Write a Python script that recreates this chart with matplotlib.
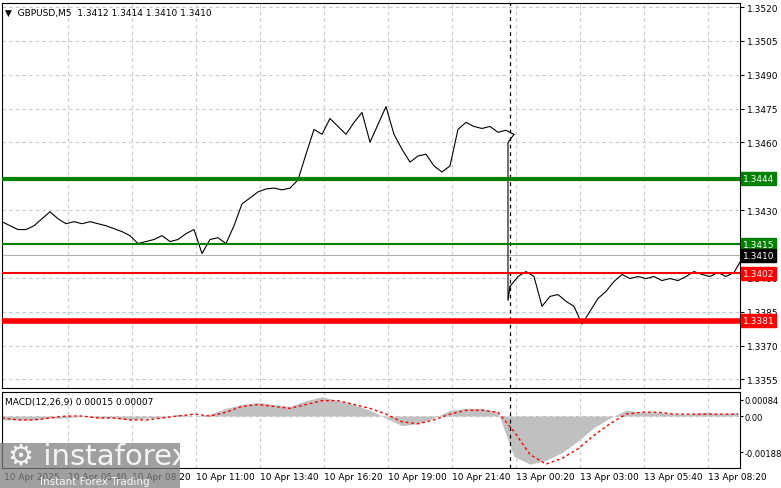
import matplotlib.pyplot as plt
import numpy as np

# price closes sampled every 4 bars (5-minute bars)
price = [1.34249, 1.34231, 1.34214, 1.34214, 1.34231, 1.34262, 1.34293, 1.34262, 1.34240, 1.34249,
         1.34240, 1.34249, 1.34240, 1.34231, 1.34218, 1.34205, 1.34187, 1.34152, 1.34161, 1.34170,
         1.34187, 1.34161, 1.34170, 1.34196, 1.34214, 1.34108, 1.34170, 1.34178, 1.34152, 1.34231,
         1.34328, 1.34354, 1.34381, 1.34394, 1.34398, 1.34390, 1.34398, 1.34434, 1.34548, 1.34658,
         1.34636, 1.34706, 1.34671, 1.34636, 1.34689, 1.34733, 1.34601, 1.34680, 1.34759, 1.34636,
         1.34570, 1.34513, 1.34540, 1.34548, 1.34496, 1.34469, 1.34496, 1.34658, 1.34689, 1.34671,
         1.34662, 1.34671, 1.34645, 1.34654, 1.34636]
price_tail = [1.33962, 1.34006, 1.34028, 1.34006, 1.33874, 1.33918, 1.33926, 1.33896, 1.33874, 1.33795,
              1.33852, 1.33909, 1.33940, 1.33984, 1.34015, 1.33997, 1.34006, 1.33997, 1.34006, 1.33988,
              1.33997, 1.33988, 1.34006, 1.34028, 1.34015, 1.34006, 1.34024, 1.34006, 1.34024, 1.34085, 1.34100]
last_price = 1.3410

levels = [1.3444, 1.3415, 1.3402, 1.3381]
level_colors = ['#008000', '#008000', '#ff0000', '#ff0000']
level_widths = [3, 1.5, 1.5, 4]

price_ticks = [1.3520, 1.3505, 1.3490, 1.3475, 1.3460, 1.3430, 1.3400, 1.3385, 1.3370, 1.3355]

# MACD histogram and signal, sampled every 8 bars
macd_hist = [-0.0002, -0.0002, -0.0002, -0.0001, -0.0001, 0.0, -0.0001, -0.0001, -0.0002, -0.0001,
             -0.0001, 0.0001, 0.0, 0.0001, 0.0004, 0.0006, 0.0007, 0.0006, 0.0005, 0.0008,
             0.0010, 0.0008, 0.0006, 0.0003, -0.0001, -0.0005, -0.0004, -0.0001, 0.0003, 0.0004,
             0.0004, 0.0002, -0.0021, -0.0025, -0.0023, -0.0019, -0.0013, -0.0006, -0.0001, 0.0003,
             0.0002, 0.0002, 0.0001, 0.0001, 0.0002, 0.0001, 0.0002]
macd_sig = [-0.0001, -0.0002, -0.0002, -0.0001, 0.0, 0.0, -0.0001, -0.0001, -0.0002, -0.0002,
            -0.0001, 0.0, 0.0001, 0.0, 0.0002, 0.0005, 0.0006, 0.0005, 0.0004, 0.0006,
            0.0008, 0.0008, 0.0006, 0.0004, 0.0001, -0.0003, -0.0004, -0.0002, 0.0001, 0.0003,
            0.0003, 0.0002, -0.0008, -0.0020, -0.0025, -0.0022, -0.0017, -0.0010, -0.0004, 0.0001,
            0.0002, 0.0002, 0.0001, 0.0001, 0.0001, 0.0001, 0.0001]

time_labels = ['10 Apr 2025', '10 Apr 05:40', '10 Apr 08:20', '10 Apr 11:00', '10 Apr 13:40',
               '10 Apr 16:20', '10 Apr 19:00', '10 Apr 21:40', '13 Apr 00:20', '13 Apr 03:00',
               '13 Apr 05:40', '13 Apr 08:20']

W, H = 781, 489
fs = 6.5
fig = plt.figure(figsize=(W / 100, H / 100), dpi=100)
left, right = 2 / W, 740 / W
ax = fig.add_axes([left, 1 - 389 / H, right - left, 385 / H])
ax2 = fig.add_axes([left, 1 - 469 / H, right - left, 76 / H])

nbars = 369
x_main = np.arange(len(price)) * 4
x_tail = 254 + np.arange(len(price_tail)) * 4
tick_bars = [1] + [33 + 32 * i for i in range(11)]
brk = 254

for a in (ax, ax2):
    a.set_xlim(0, nbars)
    for tb in tick_bars[1:]:
        a.axvline(tb, color='#c8c8c8', ls=(0, (3, 3)), lw=0.8, zorder=0)
    a.axvline(brk, color='black', ls=(0, (3, 3)), lw=0.9, zorder=3)
    a.yaxis.tick_right()
    a.tick_params(axis='y', length=3, labelsize=fs, pad=2)
    a.tick_params(axis='x', length=0)
    for s in a.spines.values():
        s.set_color('black')
        s.set_linewidth(0.8)

ax.set_ylim(1.33512, 1.35218)
for p in price_ticks:
    ax.axhline(p, color='#c8c8c8', ls=(0, (3, 3)), lw=0.8, zorder=0)
ax.axhline(last_price, color='#b0b0b0', lw=0.8, zorder=1)
ax.plot(x_main, price, color='black', lw=0.8, zorder=4)
ax.plot([x_main[-1], x_tail[0] - 1, x_tail[0] - 1, x_tail[0]],
        [price[-1], 1.3460, 1.3390, price_tail[0]], color='black', lw=0.8, zorder=4)
ax.plot(x_tail, price_tail, color='black', lw=0.8, zorder=4)
ax.set_yticks(price_ticks)
ax.set_yticklabels([f'{p:.4f}' for p in price_ticks])
ax.set_xticks([])

for lv, c, lw in zip(levels, level_colors, level_widths):
    ax.axhline(lv, color=c, lw=lw, zorder=5)
    ax.annotate(f'{lv:.4f}', xy=(1.0, lv), xycoords=('axes fraction', 'data'),
                xytext=(2, 0), textcoords='offset points', va='center', ha='left',
                fontsize=fs, color='white', annotation_clip=False,
                bbox=dict(boxstyle='square,pad=0.2', fc=c, ec=c))
ax.annotate(f'{last_price:.4f}', xy=(1.0, last_price), xycoords=('axes fraction', 'data'),
            xytext=(2, 0), textcoords='offset points', va='center', ha='left',
            fontsize=fs, color='white', annotation_clip=False,
            bbox=dict(boxstyle='square,pad=0.2', fc='black', ec='black'))

ax.text(0.004, 0.988, '\u25bc  GBPUSD,M5  1.3412 1.3414 1.3410 1.3410', transform=ax.transAxes,
        fontsize=fs, va='top', ha='left')

# MACD panel
ax2.set_ylim(-0.0027, 0.00125)
xm = np.arange(len(macd_hist)) * 8
ax2.axhline(0, color='#c8c8c8', ls=(0, (3, 3)), lw=0.8, zorder=0)
ax2.fill_between(xm, macd_hist, 0, color='#c0c0c0', lw=0, zorder=1)
ax2.plot(xm, macd_sig, color='red', ls=(0, (2, 2)), lw=1, zorder=2)
ax2.set_yticks([0.00084, 0.0, -0.00188])
ax2.set_yticklabels(['0.00084', '0.00', '-0.00188'])
ax2.tick_params(axis='y', length=2, pad=1, labelsize=6)
ax2.set_xticks(tick_bars)
ax2.set_xticklabels(time_labels, ha='left', fontsize=fs)
ax2.tick_params(axis='x', pad=3)
ax2.text(0.004, 0.93, 'MACD(12,26,9) 0.00015 0.00007', transform=ax2.transAxes,
         fontsize=fs, va='top', ha='left')

# watermark
fig.patches.append(plt.Rectangle((0, 0), 180 / W, 45 / H, transform=fig.transFigure,
                                 fc='#808080', alpha=0.75, zorder=10))
fig.text(8 / W, 1 - 464 / H, '\u2699 instaforex', fontsize=21, color='white', alpha=0.9, zorder=11)
fig.text(40 / W, 1 - 485 / H, 'Instant Forex Trading', fontsize=7.5, color='white', alpha=0.9, zorder=11)

fig.savefig('out.png', dpi=100, facecolor='white')
